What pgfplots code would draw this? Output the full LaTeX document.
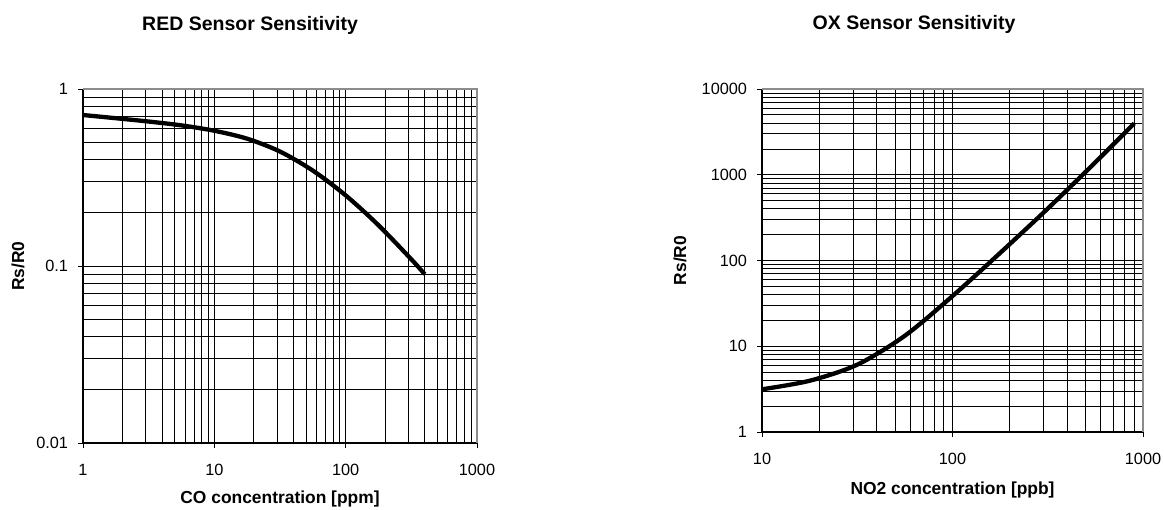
\documentclass[border=0pt]{standalone}
\usepackage{fontspec}
\setmainfont{Liberation Sans}
\usepackage{pgfplots}
\pgfplotsset{compat=1.18}
\pgfplotsset{
  sens/.style={
    scale only axis,
    axis lines=left,
    axis line style={-, black, line width=1.1pt},
    grid=both,
    major grid style={black, line width=0.8pt},
    minor grid style={black, line width=0.8pt},
    tick align=outside,
    major tick length=5pt,
    minor tick length=0pt,
    tick style={black, line width=1pt},
    ticklabel style={font=\fontsize{16.3}{16.3}\selectfont},
    xticklabel style={yshift=-13pt},
    yticklabel style={xshift=-6.5pt},
    label style={font=\bfseries\fontsize{17.4}{17.4}\selectfont},
    after end axis/.code={\draw[black!45, line width=1.6pt] (rel axis cs:0,1) -- (rel axis cs:1,1) -- (rel axis cs:1,0);},
  }
}
\begin{document}
\begin{tikzpicture}
\path[use as bounding box] (0pt,0pt) rectangle (1164pt,-509pt);
\begin{loglogaxis}[sens,
  at={(83pt,-443pt)}, anchor=south west,
  width=394pt, height=354pt,
  xmin=1, xmax=1000, ymin=0.01, ymax=1,
  xtick={1,10,100,1000}, xticklabels={1,10,100,1000},
  ytick={0.01,0.1,1}, yticklabels={0.01,0.1,1},
  title={RED Sensor Sensitivity},
  title style={at={(axis description cs:0.424,1.1695)}, anchor=base, yshift=-7pt, font=\bfseries\fontsize{19.5}{19.5}\selectfont},
  xlabel={CO concentration [ppm]},
  xlabel style={at={(axis description cs:0.5,-0.158)}, anchor=center},
  ylabel={Rs/R0},
  ylabel style={at={(axis description cs:-0.165,0.5)}, anchor=center},
]
\addplot[black, line width=4.3pt, smooth, line cap=butt] coordinates {
(1,0.713) (1.778,0.684) (3.162,0.655) (5.623,0.623) (10,0.581) (17.78,0.524) (31.62,0.4433) (56.23,0.346) (100,0.2507) (177.8,0.170) (316.2,0.1091) (400,0.0899)
};
\end{loglogaxis}
\begin{loglogaxis}[sens,
  at={(762pt,-432pt)}, anchor=south west,
  width=381pt, height=343pt,
  xmin=10, xmax=1000, ymin=1, ymax=10000,
  xtick={10,100,1000}, xticklabels={10,100,1000},
  ytick={1,10,100,1000,10000}, yticklabels={1,10,100,1000,10000},
  title={OX Sensor Sensitivity},
  title style={at={(axis description cs:0.399,1.175)}, anchor=base, yshift=-7pt, font=\bfseries\fontsize{19.5}{19.5}\selectfont},
  xlabel={NO2 concentration [ppb]},
  xlabel style={at={(axis description cs:0.5,-0.169)}, anchor=center},
  ylabel={Rs/R0},
  ylabel style={at={(axis description cs:-0.215,0.5)}, anchor=center},
]
\addplot[black, line width=4.3pt, smooth, line cap=butt] coordinates {
(10,3.15) (17.78,3.96) (31.62,6.10) (56.23,13.27) (100,38.5) (177.8,122.5) (316.2,403) (562.3,1398) (900,3976)
};
\end{loglogaxis}
\end{tikzpicture}
\end{document}
